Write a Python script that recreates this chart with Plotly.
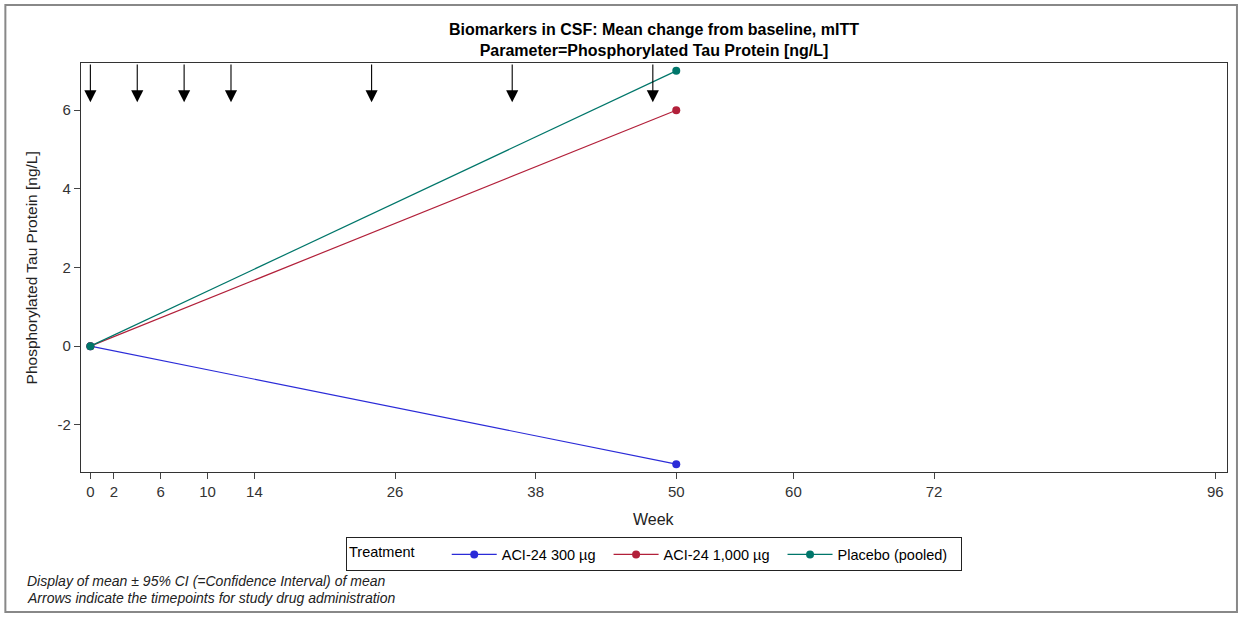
import plotly.graph_objects as go

# mean change from baseline per treatment
weeks = [0, 50]
aci300 = [0, -3]
aci1000 = [0, 6]
placebo = [0, 7]

series_names = ["ACI-24 300 µg", "ACI-24 1,000 µg", "Placebo (pooled)"]
series_colors = ["#2B2BD8", "#B2203A", "#00766A"]

tick_weeks = [0, 2, 6, 10, 14, 26, 38, 50, 60, 72, 96]
y_ticks = [-2, 0, 2, 4, 6]
y_labels = ["-2", "0", "2", "4", "6"]
dose_weeks = [0, 4, 8, 12, 24, 36, 48]

fig = go.Figure()
for name, vals, col in zip(series_names, [aci300, aci1000, placebo], series_colors):
    fig.add_trace(go.Scatter(
        x=weeks, y=vals, name=name + "  ", mode="lines+markers",
        line=dict(color=col, width=1.2),
        marker=dict(color=col, size=8),
    ))

# arrows for drug administration
for w in dose_weeks:
    fig.add_annotation(
        x=w, y=6.2, ax=w, ay=7.2, xref="x", yref="y", axref="x", ayref="y",
        text="", showarrow=True, arrowhead=2, arrowsize=2.2, arrowwidth=1.1,
        arrowcolor="black",
    )

fig.add_annotation(text="Week", x=0.5, y=-0.117, xref="paper", yref="paper",
                   showarrow=False, font=dict(size=16, color="#222"), yanchor="middle")
fig.add_annotation(text="Phosphorylated Tau Protein [ng/L]", x=-0.0428, y=0.5,
                   xref="paper", yref="paper", textangle=-90, showarrow=False,
                   xanchor="center", yanchor="middle",
                   font=dict(size=15.5, color="#222"))
fig.add_annotation(text="<i>Display of mean ± 95% CI (=Confidence Interval) of mean</i>",
                   x=-0.049, y=-0.266, xref="paper", yref="paper", xanchor="left",
                   yanchor="middle", showarrow=False, font=dict(size=14, color="#222"))
fig.add_annotation(text="<i>Arrows indicate the timepoints for study drug administration</i>",
                   x=-0.049, y=-0.307, xref="paper", yref="paper", xanchor="left",
                   yanchor="middle", showarrow=False, font=dict(size=14, color="#222"))

# outer frame of the graphic
fig.add_shape(type="rect", xref="paper", yref="paper", x0=-0.066, x1=1.0087,
              y0=-0.342, y1=1.142, line=dict(color="#888", width=2))

fig.update_layout(
    width=1241, height=617,
    margin=dict(l=81, r=14, t=63, b=145),
    paper_bgcolor="white", plot_bgcolor="white",
    font=dict(family="Liberation Sans, Arial, sans-serif", size=15, color="#333"),
    title=dict(
        text="<b>Biomarkers in CSF: Mean change from baseline, mITT</b><br>"
             "<b>Parameter=Phosphorylated Tau Protein [ng/L]</b>",
        x=0.527, xanchor="center", y=0.943, yanchor="middle",
        font=dict(size=16, color="black"),
    ),
    showlegend=True,
    legend=dict(
        orientation="h", x=0.5, xanchor="center", y=-0.2017, yanchor="middle",
        title=dict(text="Treatment      ", side="left", font=dict(size=14.5, color="black")),
        font=dict(size=14.5, color="black"),
        bordercolor="#222", borderwidth=1, bgcolor="white",
        itemwidth=45,
    ),
    xaxis=dict(
        range=[-0.8, 97], tickvals=tick_weeks, ticks="outside", ticklen=6,
        tickcolor="#444", showline=True, linecolor="#333", linewidth=1.3, mirror=True,
        showgrid=False, zeroline=False, tickfont=dict(size=15, color="#333"),
    ),
    yaxis=dict(
        range=[-3.2, 7.2], tickvals=y_ticks, ticktext=y_labels, ticks="outside",
        ticklen=6, tickcolor="#444", showline=True, linecolor="#333", linewidth=1.3,
        mirror=True, showgrid=False, zeroline=False, tickfont=dict(size=15, color="#333"),
    ),
)

fig.write_html("out.html", config={"displayModeBar": False},
               post_script="document.body.style.margin='0';")
